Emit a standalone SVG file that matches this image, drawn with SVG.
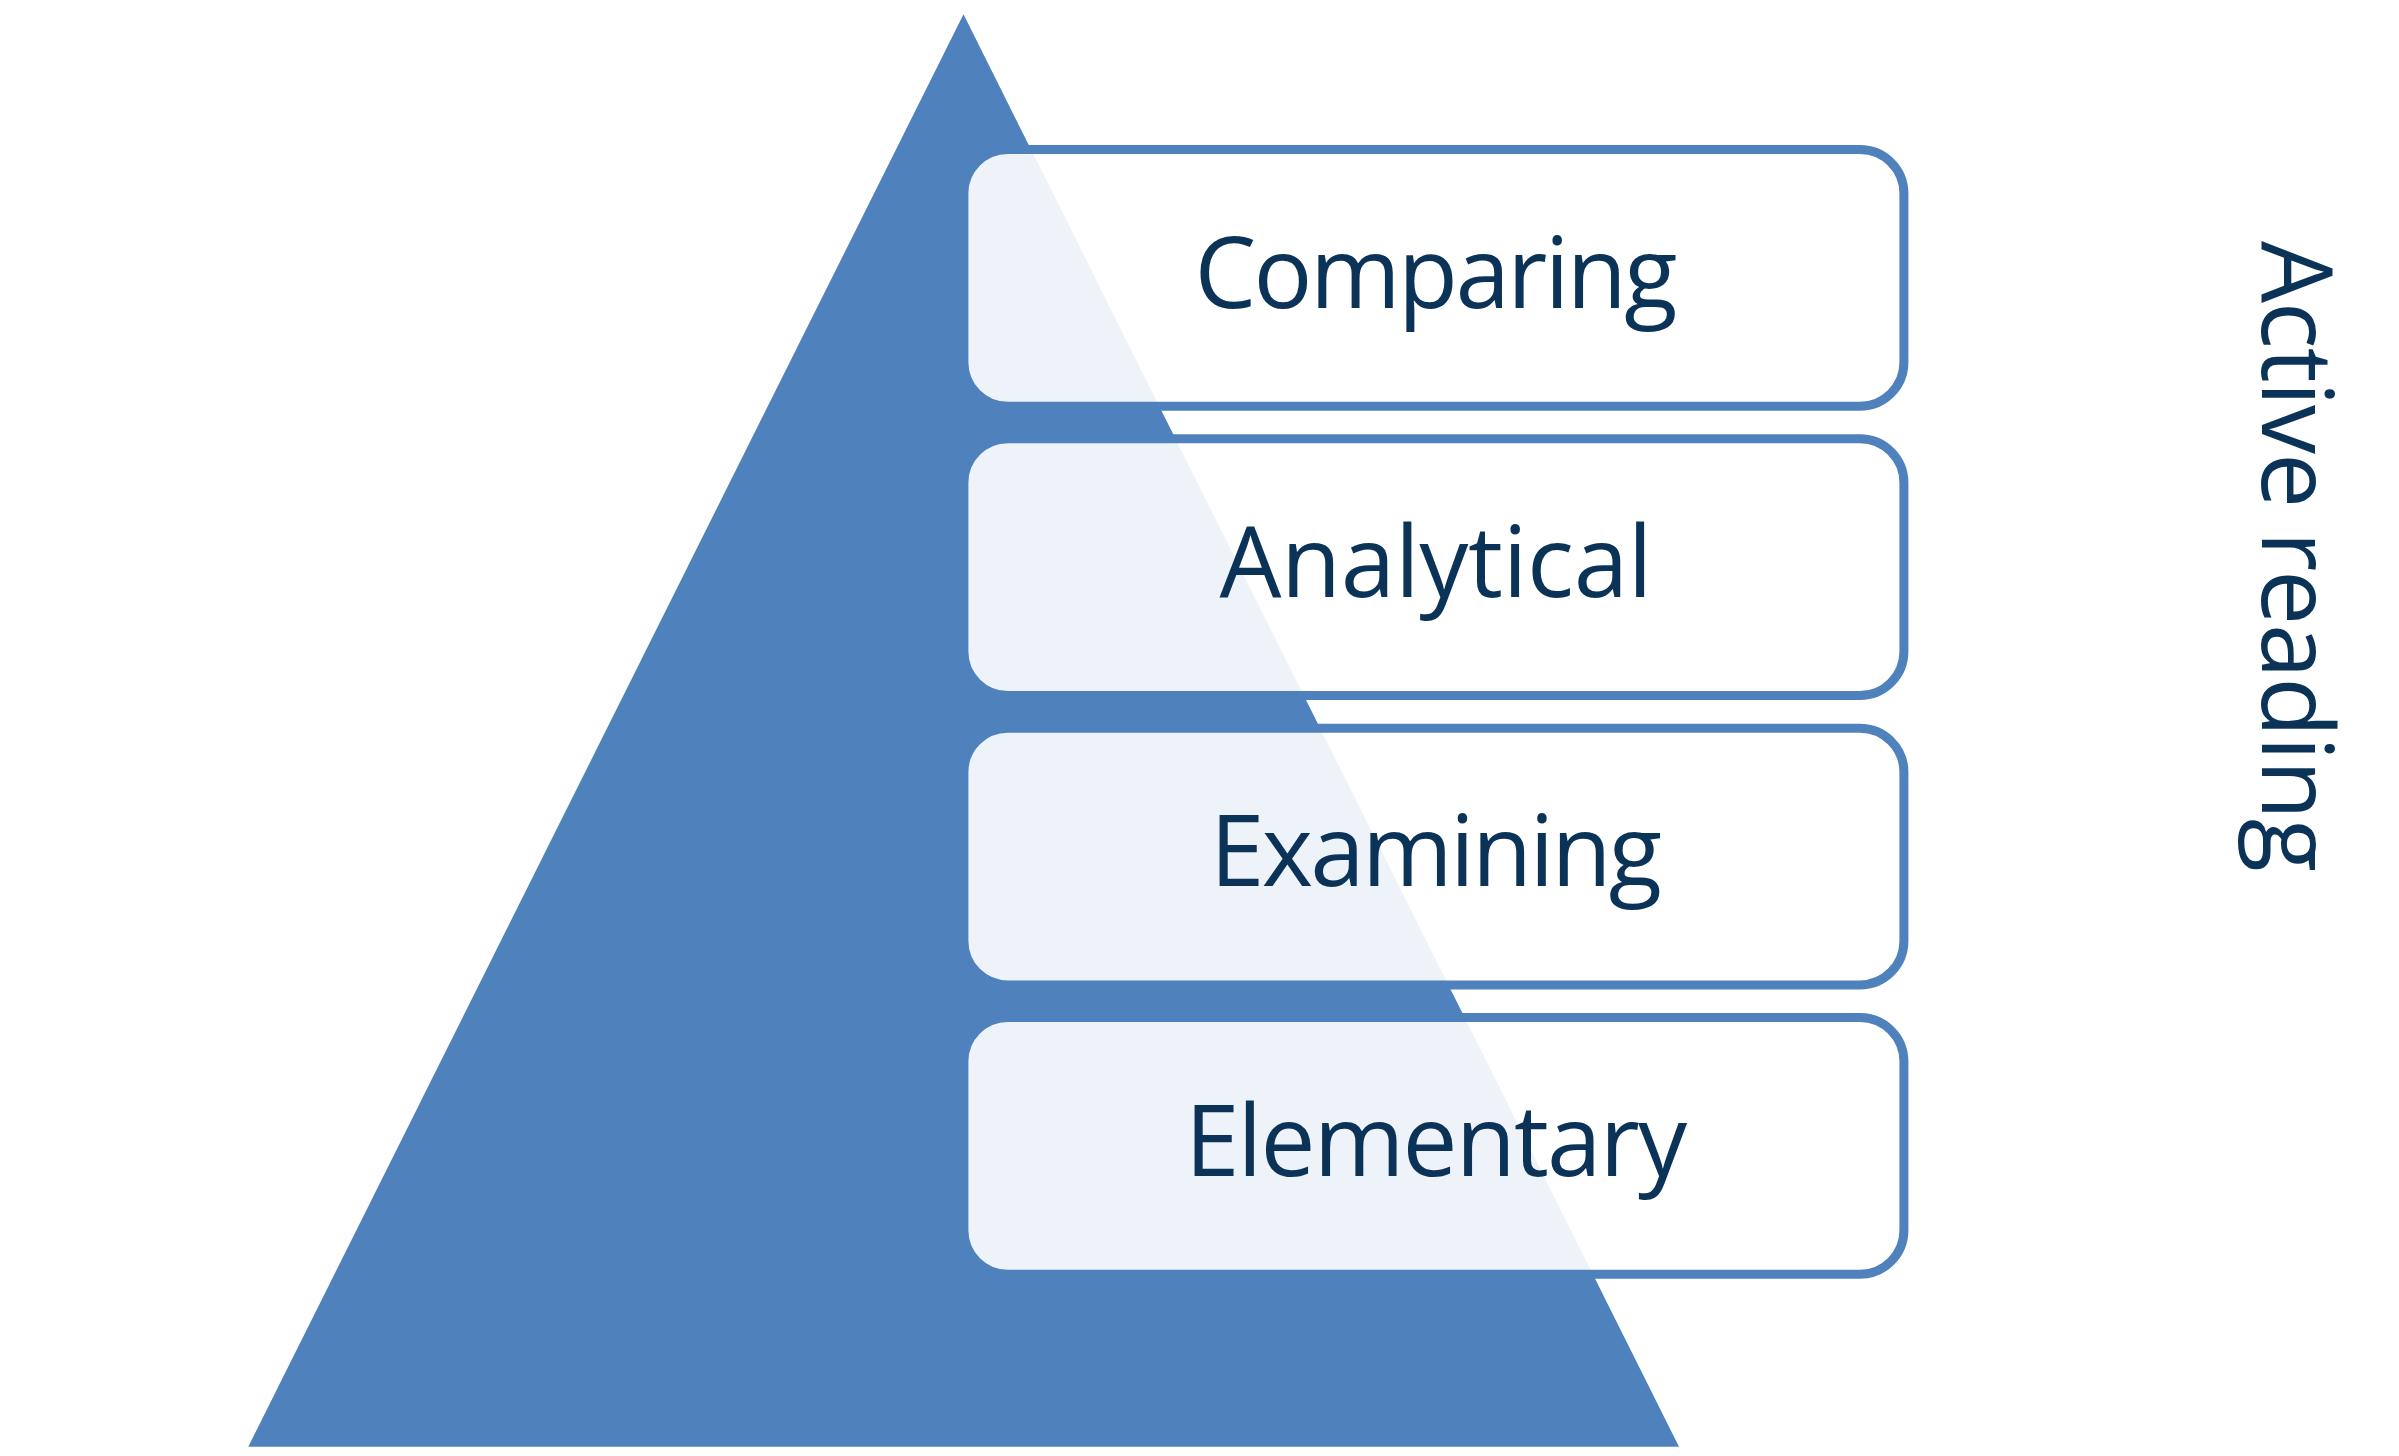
<svg xmlns="http://www.w3.org/2000/svg" width="2399" height="1456" viewBox="0 0 2399 1456">
  <style>
    .box { fill: #ffffff; fill-opacity: 0.9; stroke: #4F81BD; stroke-width: 9; }
    .lbl { font-family: "Open Sans", "Liberation Sans", sans-serif; font-size: 98px; fill: #0B3257; text-anchor: middle; }
  </style>
  <rect x="0" y="0" width="2399" height="1456" fill="#ffffff"/>
  <g id="pyramid">
    <polygon points="963.5,14.3 1679,1446.7 248.3,1446.7" fill="#4F81BD"/>
  </g>
  <g id="connectors"/>
  <g id="node-comparing">
    <rect class="box" x="963.9" y="149.5" width="940" height="256.7" rx="44" ry="44"/>
    <text class="lbl" x="1436" y="308.3" textLength="483" lengthAdjust="spacing">Comparing</text>
  </g>
  <g id="node-analytical">
    <rect class="box" x="963.9" y="438.8" width="940" height="256.7" rx="44" ry="44"/>
    <text class="lbl" x="1436" y="597.3" textLength="433" lengthAdjust="spacing">Analytical</text>
  </g>
  <g id="node-examining">
    <rect class="box" x="963.9" y="728.2" width="940" height="256.7" rx="44" ry="44"/>
    <text class="lbl" x="1436" y="886.3" textLength="452" lengthAdjust="spacing">Examining</text>
  </g>
  <g id="node-elementary">
    <rect class="box" x="963.9" y="1017.5" width="940" height="256.7" rx="44" ry="44"/>
    <text class="lbl" x="1436" y="1175.7" textLength="502" lengthAdjust="spacing">Elementary</text>
  </g>
  <g id="label-active-reading">
    <text class="lbl" transform="translate(2262,556.5) rotate(90)" x="0" y="0" textLength="631" lengthAdjust="spacing">Active reading</text>
  </g>
</svg>
